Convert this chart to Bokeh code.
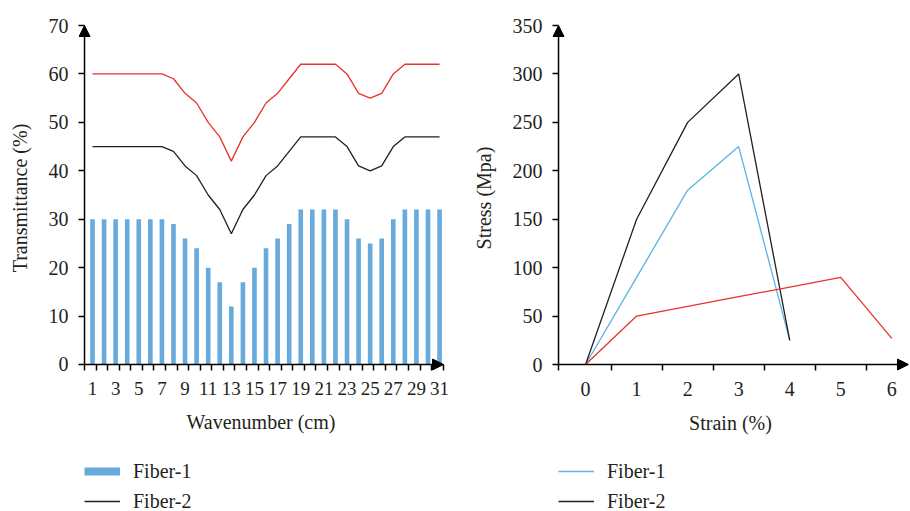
from bokeh.plotting import figure
from bokeh.models import Range1d, FixedTicker, Arrow, NormalHead, Legend, LegendItem
from bokeh.layouts import row, column
from bokeh.embed import file_html
from bokeh.resources import INLINE

# ---------------- data ----------------
wavenumber = list(range(1, 32))
wavenumber_labels = [1, 3, 5, 7, 9, 11, 13, 15, 17, 19, 21, 23, 25, 27, 29, 31]
trans_fiber1 = [30, 30, 30, 30, 30, 30, 30, 29, 26, 24, 20, 17, 12, 17, 20, 24,
                26, 29, 32, 32, 32, 32, 30, 26, 25, 26, 30, 32, 32, 32, 32]
trans_fiber2 = [45, 45, 45, 45, 45, 45, 45, 44, 41, 39, 35, 32, 27, 32, 35, 39,
                41, 44, 47, 47, 47, 47, 45, 41, 40, 41, 45, 47, 47, 47, 47]
trans_fiber3 = [60, 60, 60, 60, 60, 60, 60, 59, 56, 54, 50, 47, 42, 47, 50, 54,
                56, 59, 62, 62, 62, 62, 60, 56, 55, 56, 60, 62, 62, 62, 62]
trans_ticks = [0, 10, 20, 30, 40, 50, 60, 70]

strain_12 = [0, 1, 2, 3, 4]
stress_fiber1 = [0, 90, 180, 225, 25]
stress_fiber2 = [0, 150, 250, 300, 25]
strain_3 = [0, 1, 2, 3, 4, 5, 6]
stress_fiber3 = [0, 50, 60, 70, 80, 90, 27]
strain_ticks = [0, 1, 2, 3, 4, 5, 6]
stress_ticks = [0, 50, 100, 150, 200, 250, 300, 350]

legend_labels = ["Fiber-1", "Fiber-2"]

# ---------------- style ----------------
FONT = "Liberation Serif"
TXT = "#231f20"
BAR_BLUE = "#67aadb"
LINE_BLUE = "#5ab4e5"
RED = "#e8322b"
BLACK = "#231f20"
CHART_H = 450
LEG_H = 61


def style(p, tick_font_x="20px"):
    p.grid.visible = False
    p.outline_line_color = None
    p.background_fill_color = "white"
    for ax in (p.xaxis[0], p.yaxis[0]):
        ax.axis_line_color = None
        ax.major_label_text_font = FONT
        ax.major_label_text_font_size = "20px"
        ax.major_label_text_color = TXT
        ax.axis_label_text_font = FONT
        ax.axis_label_text_font_size = "20px"
        ax.axis_label_text_font_style = "normal"
        ax.axis_label_text_color = TXT
        ax.major_tick_line_color = "black"
        ax.major_tick_line_width = 1.5
        ax.minor_tick_line_color = "black"
        ax.minor_tick_line_width = 1.5
        ax.major_tick_in = 6
        ax.major_tick_out = 0
        ax.minor_tick_in = 6
        ax.minor_tick_out = 0
    p.xaxis[0].major_label_text_font_size = tick_font_x
    p.xaxis[0].major_tick_line_color = None
    p.xaxis[0].major_label_standoff = 11
    p.xaxis[0].axis_label_standoff = 13
    p.yaxis[0].major_label_standoff = 10
    p.yaxis[0].axis_label_standoff = 15


def axis_arrows(p, x0, y0, x1, y1):
    # axis lines drawn as arrows from the origin corner
    head = dict(size=11, fill_color="black", line_color="black", line_width=1)
    p.add_layout(Arrow(end=NormalHead(**head), x_start=x0, y_start=y0,
                       x_end=x0, y_end=y1, line_color="black", line_width=1.5))
    p.add_layout(Arrow(end=NormalHead(**head), x_start=x0, y_start=y0,
                       x_end=x1, y_end=y0, line_color="black", line_width=1.5))


def legend_figure(width, x_offset, styles):
    # a small frame that only holds the legend; its swatch renderers sit outside its ranges
    lf = figure(width=width, height=LEG_H, output_backend="svg", toolbar_location=None,
                min_border=0, x_axis_type=None, y_axis_type=None,
                x_range=Range1d(0, 1), y_range=Range1d(0, 1))
    lf.grid.visible = False
    lf.outline_line_color = None
    items = []
    for label, st in zip(legend_labels, styles):
        r = lf.line(x=[-5, -4], y=[-5, -4], line_cap="butt", **st)
        items.append(LegendItem(label=label, renderers=[r]))
    lf.add_layout(Legend(items=items, location=(x_offset, -2), orientation="vertical",
                         glyph_width=36, glyph_height=24, label_height=24, spacing=6,
                         padding=0, margin=0, label_standoff=13,
                         border_line_color=None, background_fill_alpha=0,
                         label_text_font=FONT, label_text_font_size="20px",
                         label_text_color=TXT), "center")
    return lf


# ---------------- left chart ----------------
x_axis_pos1 = 0.31
p1 = figure(width=460, height=CHART_H, x_range=Range1d(-0.21, 31.34), y_range=Range1d(-1.24, 70),
            output_backend="svg", toolbar_location=None,
            min_border_left=78, min_border_right=17, min_border_top=25, min_border_bottom=80,
            x_axis_label="Wavenumber (cm)", y_axis_label="Transmittance (%)")
p1.vbar(x=wavenumber, top=trans_fiber1, width=0.4, fill_color=BAR_BLUE, line_color=None)
p1.line(wavenumber, trans_fiber2, line_color=BLACK, line_width=1.3)
p1.line(wavenumber, trans_fiber3, line_color=RED, line_width=1.3)
style(p1, tick_font_x="19px")
p1.xaxis[0].ticker = FixedTicker(ticks=wavenumber_labels,
                                 minor_ticks=[x_axis_pos1 + k for k in range(32)])
p1.yaxis[0].ticker = FixedTicker(ticks=trans_ticks)
axis_arrows(p1, x_axis_pos1, 0, p1.x_range.end, p1.y_range.end)

# ---------------- right chart ----------------
x_axis_pos2 = -0.53
p2 = figure(width=450, height=CHART_H, x_range=Range1d(-0.648, 6.327), y_range=Range1d(-6.18, 350),
            output_backend="svg", toolbar_location=None,
            min_border_left=92, min_border_right=2, min_border_top=24, min_border_bottom=80,
            x_axis_label="Strain (%)", y_axis_label="Stress (Mpa)")
p2.line(strain_12, stress_fiber1, line_color=LINE_BLUE, line_width=1.3)
p2.line(strain_12, stress_fiber2, line_color=BLACK, line_width=1.3)
p2.line(strain_3, stress_fiber3, line_color=RED, line_width=1.3)
style(p2)
p2.xaxis[0].ticker = FixedTicker(ticks=strain_ticks,
                                 minor_ticks=[x_axis_pos2] + [t + 0.5 for t in strain_ticks])
p2.yaxis[0].ticker = FixedTicker(ticks=stress_ticks)
axis_arrows(p2, x_axis_pos2, 0, p2.x_range.end, p2.y_range.end)

# ---------------- legends (below each chart) ----------------
leg1 = legend_figure(460, 84, [dict(line_color=BAR_BLUE, line_width=8),
                               dict(line_color=BLACK, line_width=1.3)])
leg2 = legend_figure(450, 98, [dict(line_color=LINE_BLUE, line_width=1.3),
                               dict(line_color=BLACK, line_width=1.3)])

layout = column(row(p1, p2), row(leg1, leg2))
open("out.html", "w").write(file_html(layout, INLINE))
